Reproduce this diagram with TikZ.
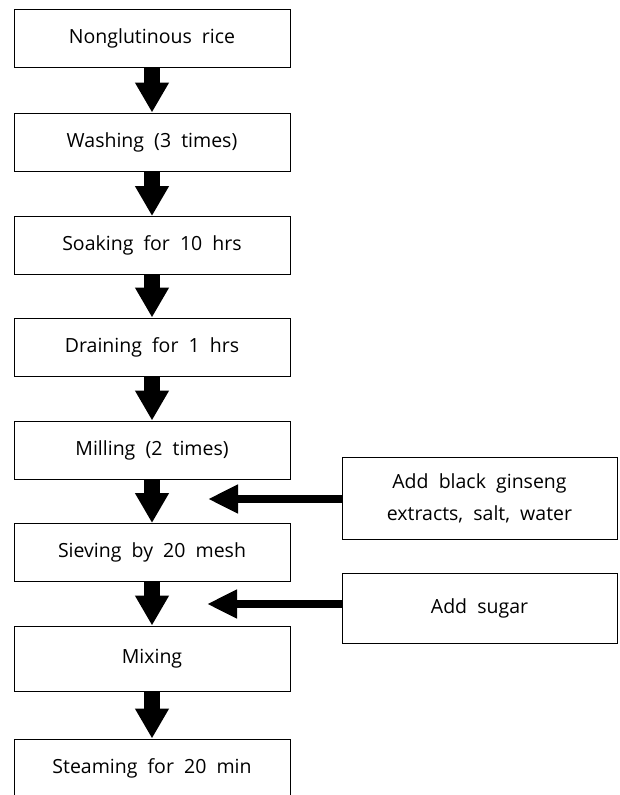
\documentclass[tikz,border=0pt]{standalone}
\usepackage{fontspec}
\setmainfont{Open Sans}
\usetikzlibrary{arrows.meta}

\begin{document}
\begin{tikzpicture}[x=1pt,y=-1pt,
        stepbox/.style={draw,line width=1pt,minimum width=276pt,minimum height=58pt,
            inner sep=0pt,align=center,font=\fontsize{19.5}{32}\selectfont},
        downarrow/.style={line width=16pt,-{Triangle[width=32pt,length=30pt]}},
        leftarrow/.style={line width=8pt,-{Triangle[width=27pt,length=30pt]}}]
        \useasboundingbox (0,0) rectangle (619,795);
        \clip (0,0) rectangle (619,795);

        \node[stepbox] (rice) at (152,38) {Nonglutinous\ \ rice};
        \node[stepbox] (wash) at (152,142) {Washing\ \ (3\ \ times)};
        \node[stepbox] (soak) at (152,245.5) {Soaking\ \ for\ \ 10\ \ hrs};
        \node[stepbox] (drain) at (152,347) {Draining\ \ for\ \ 1\ \ hrs};
        \node[stepbox] (mill) at (152,450) {Milling\ \ (2\ \ times)};
        \node[stepbox] (sieve) at (152,552.5) {Sieving\ \ by\ \ 20\ \ mesh};
        \node[stepbox,minimum height=65pt] (mix) at (152,658.5) {Mixing};
        \node[stepbox] (steam) at (152,768) {Steaming\ \ for\ \ 20\ \ min};

        \node[stepbox,minimum width=275pt,minimum height=82pt] (ginseng) at (479.5,498)
            {Add\ \ black\ \ ginseng\\extracts,\ \ salt,\ \ water};
        \node[stepbox,minimum width=275pt,minimum height=70pt] (sugar) at (479.5,608) {Add\ \ sugar};

        \draw[downarrow] (rice) -- (wash);
        \draw[downarrow] (wash) -- (soak);
        \draw[downarrow] (soak) -- (drain);
        \draw[downarrow] (drain) -- (mill);
        \draw[downarrow] (mill) -- (sieve);
        \draw[downarrow] (sieve) -- (mix);
        \draw[downarrow] (mix) -- (steam);

        \coordinate (inA) at (208,499);
        \coordinate (inB) at (207,604);
        \draw[leftarrow] (ginseng.west |- inA) -- (inA);
        \draw[leftarrow] (sugar.west |- inB) -- (inB);
    \end{tikzpicture}
\end{document}
